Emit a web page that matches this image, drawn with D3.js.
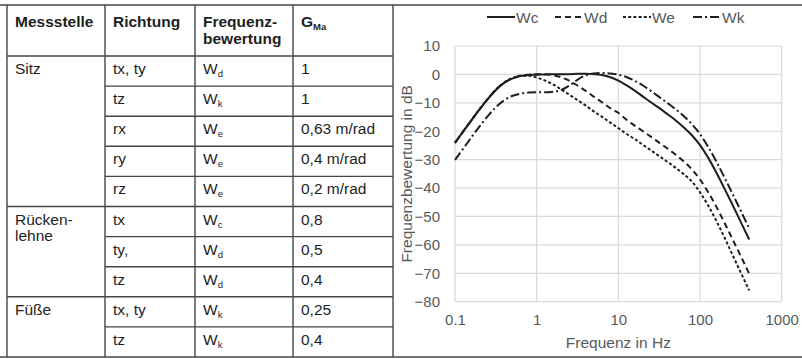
<!DOCTYPE html>
<html>
<head>
<meta charset="utf-8">
<script src="https://cdn.jsdelivr.net/npm/d3@7/dist/d3.min.js"></script>
<style>
  html, body { margin: 0; padding: 0; background: #fff; }
  svg { display: block; font-family: "Liberation Sans", Arial, sans-serif; }
</style>
</head>
<body>
<svg id="fig" width="802" height="359"></svg>
<script>
// ---- Table content ----
const headers = ["Messstelle", "Richtung", "Frequenz-|bewertung", "G"];
const groups = ["Sitz", "Rücken-|lehne", "Füße"];
const groupRows = [5, 3, 2];
const directions = ["tx, ty", "tz", "rx", "ry", "rz", "tx", "ty,", "tz", "tx, ty", "tz"];
const weightSub = ["d", "k", "e", "e", "e", "c", "d", "d", "k", "k"];
const gains = ["1", "1", "0,63 m/rad", "0,4 m/rad", "0,2 m/rad", "0,8", "0,5", "0,4", "0,25", "0,4"];

// ---- Chart content: 1/3-octave band frequencies (Hz) and weightings (dB) ----
const freq = [0.1, 0.125, 0.16, 0.2, 0.25, 0.315, 0.4, 0.5, 0.63, 0.8, 1, 1.25, 1.6, 2, 2.5, 3.15, 4, 5, 6.3, 8,
  10, 12.5, 16, 20, 25, 31.5, 40, 50, 63, 80, 100, 125, 160, 200, 250, 315, 400];
const wc = [-24.1, -20.2, -16.0, -12.3, -8.8, -5.6, -3.0, -1.5, -0.6, -0.2, -0.1, 0, 0.1, 0.1, 0.1, 0.2, 0.2, 0.1, -0.2, -1.0,
  -2.2, -3.8, -5.8, -7.8, -9.8, -11.8, -14.0, -16.1, -18.6, -21.5, -24.9, -29.2, -34.8, -40.3, -45.9, -51.9, -58.1];
const wd = [-24.1, -20.2, -16.0, -12.3, -8.8, -5.5, -2.9, -1.4, -0.5, -0.1, 0.1, 0.1, -0.3, -1.0, -2.2, -3.9, -5.8, -7.8, -9.8, -11.9,
  -13.5, -15.9, -18.1, -20.0, -21.9, -24.0, -26.1, -28.2, -30.6, -33.5, -37.0, -41.3, -46.8, -52.3, -58.0, -63.9, -70.2];
const we = [-24.1, -20.2, -16.0, -12.2, -8.7, -5.4, -2.8, -1.3, -0.5, -0.5, -1.1, -2.1, -3.6, -5.3, -7.1, -9.0, -11.0, -13.0, -14.9, -17.0,
  -18.9, -20.9, -22.8, -24.8, -26.7, -28.7, -30.8, -32.8, -35.1, -37.8, -41.5, -46.0, -51.8, -57.5, -63.5, -69.7, -76.0];
const wk = [-30.1, -26.3, -22.0, -18.3, -14.8, -11.6, -9.1, -7.6, -6.8, -6.4, -6.3, -6.3, -6.1, -5.5, -4.0, -1.9, -0.3, 0.3, 0.5, 0.3,
  -0.1, -0.9, -2.3, -3.9, -5.8, -7.9, -10.1, -12.2, -14.6, -17.6, -21.0, -25.4, -30.9, -36.4, -42.0, -48.0, -54.2];
const seriesNames = ["Wc", "Wd", "We", "Wk"];
const seriesDash = [null, "6,4", "3,2.2", "9,3,2,3"];
const xTicks = [0.1, 1, 10, 100, 1000];
const xTickLabels = ["0.1", "1", "10", "100", "1000"];
const yTicks = [10, 0, -10, -20, -30, -40, -50, -60, -70, -80];

const svg = d3.select("#fig");
const ink = "#1e1e1e";
const rule = "#454545";

// ---------- Table ----------
const colX = [7, 105, 195, 293, 393];
const tTop = 5, headBottom = 56, rowH = 30.1;
const nRows = directions.length;
const tBottom = headBottom + nRows * rowH;
const rowY = i => headBottom + i * rowH;
const pad = 8;
const bodySize = 15.5;

const tbl = svg.append("g");

// header text
headers.forEach((h, i) => {
  const t = tbl.append("text")
    .attr("x", colX[i] + pad).attr("y", 27)
    .attr("font-size", 15.5).attr("font-weight", "bold").attr("fill", ink);
  const parts = h.split("|");
  parts.forEach((p, k) => t.append("tspan").attr("x", colX[i] + pad).attr("dy", k ? 17 : 0).text(p));
  if (h === "G") {
    t.append("tspan").attr("font-size", 9.5).attr("dy", 3).text("Ma");
  }
});

// group labels
let acc = 0;
groups.forEach((g, gi) => {
  const t = tbl.append("text").attr("x", colX[0] + pad).attr("y", rowY(acc) + 18)
    .attr("font-size", bodySize).attr("fill", ink);
  g.split("|").forEach((p, k) => t.append("tspan").attr("x", colX[0] + pad).attr("dy", k ? 16 : 0).text(p));
  acc += groupRows[gi];
});

// row cells
directions.forEach((d, i) => {
  const y = rowY(i) + 18;
  tbl.append("text").attr("x", colX[1] + pad).attr("y", y).attr("font-size", bodySize).attr("fill", ink).text(d);
  const w = tbl.append("text").attr("x", colX[2] + pad).attr("y", y).attr("font-size", bodySize).attr("fill", ink);
  w.append("tspan").text("W");
  w.append("tspan").attr("font-size", 9.5).attr("dy", 3).text(weightSub[i]);
  tbl.append("text").attr("x", colX[3] + pad).attr("y", y).attr("font-size", bodySize).attr("fill", ink).text(gains[i]);
});

// grid lines of the table
const lines = [];
lines.push([0, tTop, 802, tTop]);
lines.push([0, tBottom, 802, tBottom]);
colX.forEach(x => lines.push([x, tTop, x, tBottom]));
lines.push([colX[0], headBottom, colX[4], headBottom]);
let cum = 0;
groupRows.forEach((n, gi) => {
  for (let k = 1; k < n; k++) lines.push([colX[1], rowY(cum + k), colX[4], rowY(cum + k)]);
  cum += n;
  if (gi < groupRows.length - 1) lines.push([colX[0], rowY(cum), colX[4], rowY(cum)]);
});
tbl.selectAll("line.rule").data(lines).join("line")
  .attr("x1", d => d[0]).attr("y1", d => d[1]).attr("x2", d => d[2]).attr("y2", d => d[3])
  .attr("stroke", rule).attr("stroke-width", 1.4);

// ---------- Chart ----------
const plot = { left: 455, right: 781.7, top: 46, bottom: 301.7 };
const x = d3.scaleLog().domain([0.1, 1000]).range([plot.left, plot.right]);
const y = d3.scaleLinear().domain([-80, 10]).range([plot.bottom, plot.top]);
const axisGrey = "#595959";
const chart = svg.append("g");

// gridlines
chart.append("g").selectAll("line").data(yTicks).join("line")
  .attr("x1", plot.left).attr("x2", plot.right)
  .attr("y1", d => y(d)).attr("y2", d => y(d))
  .attr("stroke", "#d9d9d9").attr("stroke-width", 1.2);
chart.append("g").selectAll("line").data(xTicks).join("line")
  .attr("x1", d => x(d)).attr("x2", d => x(d))
  .attr("y1", plot.top).attr("y2", plot.bottom)
  .attr("stroke", "#d9d9d9").attr("stroke-width", 1.2);

// y axis labels
const yAxis = d3.axisLeft(y).tickValues(yTicks).tickSize(0).tickPadding(15).tickFormat(d3.format("d"));
chart.append("g").attr("transform", `translate(${plot.left},0)`).call(yAxis)
  .call(g => g.select(".domain").remove())
  .call(g => g.selectAll("text").attr("fill", axisGrey).attr("font-size", 15)
    .attr("font-family", "Liberation Sans, Arial, sans-serif"));

// x axis labels
const xAxis = d3.axisBottom(x).tickValues(xTicks).tickSize(0).tickPadding(13)
  .tickFormat((d, i) => xTickLabels[i]);
chart.append("g").attr("transform", `translate(0,${plot.bottom})`).call(xAxis)
  .call(g => g.select(".domain").remove())
  .call(g => g.selectAll("text").attr("fill", axisGrey).attr("font-size", 15)
    .attr("font-family", "Liberation Sans, Arial, sans-serif"));

// axis titles
chart.append("text").attr("x", (plot.left + plot.right) / 2).attr("y", 348)
  .attr("text-anchor", "middle").attr("font-size", 15.5).attr("fill", axisGrey).text("Frequenz in Hz");
chart.append("text").attr("transform", `translate(412,${(plot.top + plot.bottom) / 2}) rotate(-90)`)
  .attr("text-anchor", "middle").attr("font-size", 15.5).attr("fill", axisGrey).text("Frequenzbewertung in dB");

// curves
const seriesValues = [wc, wd, we, wk];
const line = d3.line().x(d => x(d[0])).y(d => y(d[1])).curve(d3.curveMonotoneX);
seriesValues.forEach((vals, si) => {
  chart.append("path")
    .datum(freq.map((f, i) => [f, vals[i]]))
    .attr("d", line)
    .attr("fill", "none")
    .attr("stroke", ink)
    .attr("stroke-width", 2)
    .attr("stroke-dasharray", seriesDash[si]);
});

// legend
const legendX = [487, 555, 623, 693];
const leg = chart.append("g");
seriesNames.forEach((n, i) => {
  leg.append("line").attr("x1", legendX[i]).attr("x2", legendX[i] + 28)
    .attr("y1", 17).attr("y2", 17)
    .attr("stroke", ink).attr("stroke-width", 2).attr("stroke-dasharray", seriesDash[i]);
  leg.append("text").attr("x", legendX[i] + 29).attr("y", 22.5)
    .attr("font-size", 15.5).attr("fill", axisGrey).text(n);
});
</script>
</body>
</html>
